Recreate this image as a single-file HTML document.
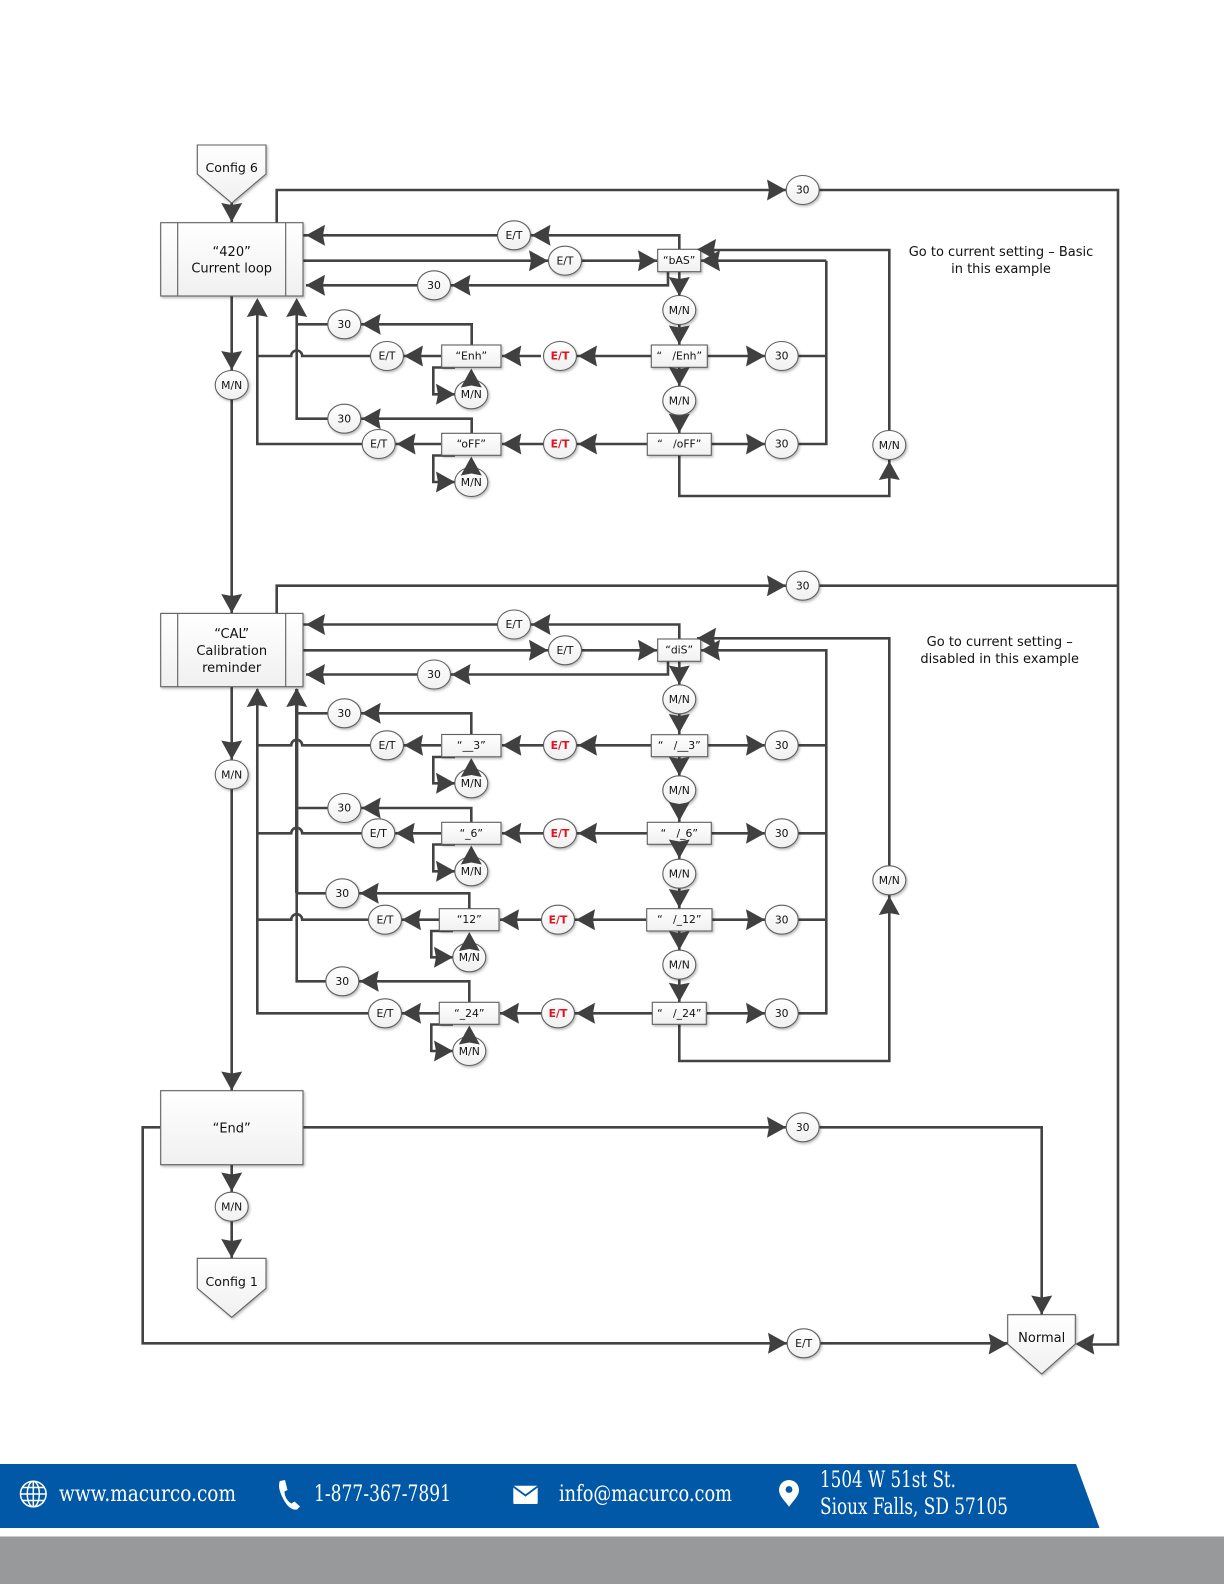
<!DOCTYPE html>
<html><head><meta charset="utf-8"><title>Config 6 flow diagram</title>
<style>html,body{margin:0;padding:0;background:#fff}svg{display:block}
text{font-family:"DejaVu Sans","Liberation Sans",sans-serif;fill:#111;text-anchor:middle;white-space:pre}
.s{font-size:10.8px}.m{font-size:13px}.c{font-size:12.6px}.r{fill:#e0131f;font-weight:bold}
.f{font-family:"DejaVu Serif","Liberation Serif",serif;font-size:22px;fill:#fff;text-anchor:start}
.sh{fill:url(#g);stroke:#5f5f5f;stroke-width:1.1;filter:url(#ds)}
</style></head><body>
<svg width="1224" height="1584" viewBox="0 0 1224 1584" xmlns="http://www.w3.org/2000/svg">
<defs>
<linearGradient id="g" x1="0" y1="0" x2="0" y2="1"><stop offset="0" stop-color="#fff"/><stop offset="1" stop-color="#f0f0f0"/></linearGradient>
<filter id="ds" x="-20%" y="-20%" width="140%" height="140%"><feDropShadow dx="1.2" dy="1.5" stdDeviation="1.4" flood-color="#000" flood-opacity=".28"/></filter>
<polygon id="ar" points="0,0 -19,-10.5 -17,0 -19,10.5" fill="#404040"/>
<polygon id="al" points="0,0 19,-10.5 17,0 19,10.5" fill="#404040"/>
<polygon id="ad" points="0,0 -10.5,-19 0,-17 10.5,-19" fill="#404040"/>
<polygon id="au" points="0,0 -10.5,19 0,17 10.5,19" fill="#404040"/>
</defs>
<rect width="1224" height="1584" fill="#fff"/>

<!-- connectors -->
<g fill="none" stroke="#434343" stroke-width="2.6">
<path d="M231.7 203V222M276.7 223V190H1118V1344.5H1080M303 235.3H679.3V250M303 260.7H657M668 271V285.3H306M679.3 271V345M679.3 367V433M651 356H560M541 356H502M707 356H826M647 444H502M711 444H826M826.3 260.7V444H798M826.3 260.7H701M679.3 455V496H889.3V250H697"/>
<path d="M231.7 296V613M257.3 300V444H441M296.7 300V418.7H471.7V433M296.7 324.3H471.7V345M441 356H302.2a5.5 5.5 0 0 0 -11 0H257.3"/>
<path d="M455 367.5H433.3V394.3H455M455 455.5H433.3V482H455"/>
<path d="M276.7 614V585.7H1118M303 624.5H679.3V639M303 650.3H657M668 661V674.5H306M679.3 661V1002M651 745.3H502M707 745.3H826M647 833.3H502M711 833.3H826M646 919.7H500M712 919.7H826M652 1013.3H500M706 1013.3H826.3V650.3H701M679.3 1024V1061H889.3V638.3H697"/>
<path d="M231.7 687V1091M257.3 689V1013.3H439M296.7 689V981.3H469.3V1002M296.7 713.3H471.3V734M296.7 808H471.3V822M296.7 893.3H469.3V909"/>
<path d="M441 745.3H302.2a5.5 5.5 0 0 0 -11 0H257.3M441 833.3H302.2a5.5 5.5 0 0 0 -11 0H257.3M439 919.7H302.2a5.5 5.5 0 0 0 -11 0H257.3"/>
<path d="M455 757H433.3V783.3H455M455 844.5H433.3V871.3H455M453 931H431.3V957.3H453M453 1024.5H431.3V1051H453"/>
<path d="M231.7 1164V1258M303 1127.3H1041.7V1315M160 1127.3H142.7V1343.3H1008"/>
<path d="M296.7 689V893" stroke-width="3.4"/>
</g>

<!-- pentagons and large boxes -->
<polygon class="sh" points="197.3,145 266,145 266,174 231.7,203 197.3,174"/>
<polygon class="sh" points="197.3,1258.3 266,1258.3 266,1288.3 231.7,1317.3 197.3,1288.3"/>
<polygon class="sh" points="1007.7,1314.7 1075.3,1314.7 1075.3,1344 1041.7,1374 1007.7,1344"/>
<rect class="sh" x="160.7" y="222.7" width="142.3" height="73.3"/>
<path d="M177.7 222.7V296M285.7 222.7V296" stroke="#5f5f5f" stroke-width="1.1"/>
<rect class="sh" x="160.7" y="613.4" width="142.3" height="73.3"/>
<path d="M177.7 613.4V686.7M285.7 613.4V686.7" stroke="#5f5f5f" stroke-width="1.1"/>
<rect class="sh" x="160.7" y="1090.7" width="142.3" height="74"/>

<!-- small boxes -->
<g class="bx">
<rect class="sh" x="657.7" y="249.3" width="43" height="22.4"/>
<rect class="sh" x="651.3" y="345" width="56" height="22.3"/>
<rect class="sh" x="647.3" y="433.3" width="64" height="22"/>
<rect class="sh" x="441.7" y="345" width="59.3" height="22.3"/>
<rect class="sh" x="441.7" y="433.3" width="59.3" height="22"/>
<rect class="sh" x="657.7" y="639" width="43" height="22.3"/>
<rect class="sh" x="651.3" y="734.7" width="56.4" height="22"/>
<rect class="sh" x="647.3" y="822.3" width="64" height="22"/>
<rect class="sh" x="646.7" y="908.7" width="65.3" height="22.3"/>
<rect class="sh" x="652.3" y="1002.3" width="54" height="22"/>
<rect class="sh" x="441.7" y="734.5" width="59.3" height="22.3"/>
<rect class="sh" x="441.7" y="822.3" width="59.3" height="22"/>
<rect class="sh" x="439.3" y="908.7" width="59.7" height="22"/>
<rect class="sh" x="439.3" y="1002.3" width="59.7" height="22"/>
</g>

<!-- circles -->
<g>
<ellipse class="sh" cx="802.7" cy="190" rx="16.5" ry="14.5"/>
<ellipse class="sh" cx="514" cy="235.3" rx="16.5" ry="14.5"/>
<ellipse class="sh" cx="565" cy="260.7" rx="16.5" ry="14.5"/>
<ellipse class="sh" cx="434" cy="285.3" rx="16.5" ry="14.5"/>
<ellipse class="sh" cx="679.3" cy="310" rx="16.5" ry="14.5"/>
<ellipse class="sh" cx="344.3" cy="324.3" rx="16.5" ry="14.5"/>
<ellipse class="sh" cx="387" cy="356" rx="16.5" ry="14.5"/>
<ellipse class="sh" cx="560" cy="356" rx="16.5" ry="14.5"/>
<ellipse class="sh" cx="781.7" cy="356" rx="16.5" ry="14.5"/>
<ellipse class="sh" cx="231.7" cy="385" rx="16.5" ry="14.5"/>
<ellipse class="sh" cx="471.3" cy="394.3" rx="16.5" ry="14.5"/>
<ellipse class="sh" cx="679.3" cy="400.7" rx="16.5" ry="14.5"/>
<ellipse class="sh" cx="344.3" cy="418.7" rx="16.5" ry="14.5"/>
<ellipse class="sh" cx="378.7" cy="444" rx="16.5" ry="14.5"/>
<ellipse class="sh" cx="560" cy="444" rx="16.5" ry="14.5"/>
<ellipse class="sh" cx="781.7" cy="444" rx="16.5" ry="14.5"/>
<ellipse class="sh" cx="889.3" cy="445" rx="16.5" ry="14.5"/>
<ellipse class="sh" cx="471.3" cy="482" rx="16.5" ry="14.5"/>
<ellipse class="sh" cx="802.7" cy="585.7" rx="16.5" ry="14.5"/>
<ellipse class="sh" cx="514" cy="624.5" rx="16.5" ry="14.5"/>
<ellipse class="sh" cx="565" cy="650.3" rx="16.5" ry="14.5"/>
<ellipse class="sh" cx="434" cy="674.5" rx="16.5" ry="14.5"/>
<ellipse class="sh" cx="679.3" cy="699.3" rx="16.5" ry="14.5"/>
<ellipse class="sh" cx="344.3" cy="713.3" rx="16.5" ry="14.5"/>
<ellipse class="sh" cx="387" cy="745.3" rx="16.5" ry="14.5"/>
<ellipse class="sh" cx="560" cy="745.3" rx="16.5" ry="14.5"/>
<ellipse class="sh" cx="781.7" cy="745.3" rx="16.5" ry="14.5"/>
<ellipse class="sh" cx="231.7" cy="774.5" rx="16.5" ry="14.5"/>
<ellipse class="sh" cx="471.3" cy="783.3" rx="16.5" ry="14.5"/>
<ellipse class="sh" cx="679.3" cy="790.3" rx="16.5" ry="14.5"/>
<ellipse class="sh" cx="344.3" cy="808" rx="16.5" ry="14.5"/>
<ellipse class="sh" cx="378.3" cy="833.3" rx="16.5" ry="14.5"/>
<ellipse class="sh" cx="560" cy="833.3" rx="16.5" ry="14.5"/>
<ellipse class="sh" cx="781.7" cy="833.3" rx="16.5" ry="14.5"/>
<ellipse class="sh" cx="471.3" cy="871.3" rx="16.5" ry="14.5"/>
<ellipse class="sh" cx="679.3" cy="873.7" rx="16.5" ry="14.5"/>
<ellipse class="sh" cx="889.3" cy="880.3" rx="16.5" ry="14.5"/>
<ellipse class="sh" cx="342.3" cy="893.3" rx="16.5" ry="14.5"/>
<ellipse class="sh" cx="385" cy="919.7" rx="16.5" ry="14.5"/>
<ellipse class="sh" cx="558" cy="919.7" rx="16.5" ry="14.5"/>
<ellipse class="sh" cx="781.7" cy="919.7" rx="16.5" ry="14.5"/>
<ellipse class="sh" cx="469.3" cy="957.3" rx="16.5" ry="14.5"/>
<ellipse class="sh" cx="679.3" cy="964.7" rx="16.5" ry="14.5"/>
<ellipse class="sh" cx="342.3" cy="981.3" rx="16.5" ry="14.5"/>
<ellipse class="sh" cx="385" cy="1013.3" rx="16.5" ry="14.5"/>
<ellipse class="sh" cx="558" cy="1013.3" rx="16.5" ry="14.5"/>
<ellipse class="sh" cx="781.7" cy="1013.3" rx="16.5" ry="14.5"/>
<ellipse class="sh" cx="469.3" cy="1051" rx="16.5" ry="14.5"/>
<ellipse class="sh" cx="802.7" cy="1127.3" rx="16.5" ry="14.5"/>
<ellipse class="sh" cx="231.7" cy="1206.7" rx="16.5" ry="14.5"/>
<ellipse class="sh" cx="803.7" cy="1343.3" rx="16.5" ry="14.5"/>
</g>

<!-- arrowheads -->
<g>
<use href="#ad" x="231.7" y="222"/><use href="#ar" x="786" y="190"/><use href="#al" x="306" y="235.3"/><use href="#al" x="531.5" y="235.3"/>
<use href="#ar" x="548" y="260.7"/><use href="#ar" x="657" y="260.7"/><use href="#al" x="451.5" y="285.3"/><use href="#al" x="306" y="285.3"/>
<use href="#ad" x="679.3" y="296"/><use href="#ad" x="679.3" y="344.5"/><use href="#ad" x="679.3" y="386"/><use href="#ad" x="679.3" y="432.7"/>
<use href="#al" x="578" y="356"/><use href="#al" x="502.3" y="356"/><use href="#ar" x="765" y="356"/><use href="#al" x="578" y="444"/><use href="#al" x="502.3" y="444"/><use href="#ar" x="765" y="444"/>
<use href="#al" x="404" y="356"/><use href="#al" x="396.5" y="444"/><use href="#al" x="701" y="260.7"/><use href="#al" x="697" y="249.5"/>
<use href="#au" x="889.3" y="461"/><use href="#ad" x="231.7" y="370"/><use href="#au" x="257.3" y="298"/><use href="#au" x="296.7" y="298"/>
<use href="#al" x="361.7" y="324.3"/><use href="#al" x="361.7" y="418.7"/><use href="#ar" x="455" y="394.3"/><use href="#au" x="471.3" y="368.5"/><use href="#ar" x="455" y="482"/><use href="#au" x="471.3" y="456.5"/>

<use href="#ad" x="231.7" y="613"/><use href="#ar" x="786" y="585.7"/><use href="#al" x="306" y="624.5"/><use href="#al" x="531.5" y="624.5"/>
<use href="#ar" x="548" y="650.3"/><use href="#ar" x="657" y="650.3"/><use href="#al" x="451.5" y="674.5"/><use href="#al" x="306" y="674.5"/>
<use href="#ad" x="679.3" y="684.5"/><use href="#ad" x="679.3" y="733"/><use href="#ad" x="679.3" y="775.7"/><use href="#ad" x="679.3" y="821"/><use href="#ad" x="679.3" y="858.5"/><use href="#ad" x="679.3" y="908"/><use href="#ad" x="679.3" y="950"/><use href="#ad" x="679.3" y="1001.7"/>
<use href="#al" x="701" y="650.3"/><use href="#al" x="697" y="638.3"/><use href="#au" x="889.3" y="896"/>
<use href="#ad" x="231.7" y="759.5"/><use href="#ad" x="231.7" y="1090.5"/><use href="#au" x="257.3" y="688"/><use href="#au" x="296.7" y="688"/>
<use href="#al" x="361.7" y="713.3"/><use href="#al" x="361.7" y="808"/><use href="#al" x="359.7" y="893.3"/><use href="#al" x="359.7" y="981.3"/>
<use href="#al" x="404" y="745.3"/><use href="#al" x="395.7" y="833.3"/><use href="#al" x="402" y="919.7"/><use href="#al" x="402" y="1013.3"/>
<use href="#al" x="502.3" y="745.3"/><use href="#al" x="502.3" y="833.3"/><use href="#al" x="500" y="919.7"/><use href="#al" x="500" y="1013.3"/>
<use href="#al" x="578" y="745.3"/><use href="#al" x="578" y="833.3"/><use href="#al" x="576" y="919.7"/><use href="#al" x="576" y="1013.3"/>
<use href="#ar" x="765" y="745.3"/><use href="#ar" x="765" y="833.3"/><use href="#ar" x="765" y="919.7"/><use href="#ar" x="765" y="1013.3"/>
<use href="#ar" x="455" y="783.3"/><use href="#au" x="471.3" y="758"/><use href="#ar" x="455" y="871.3"/><use href="#au" x="471.3" y="845.5"/>
<use href="#ar" x="453" y="957.3"/><use href="#au" x="469.3" y="932"/><use href="#ar" x="453" y="1051"/><use href="#au" x="469.3" y="1025.5"/>

<use href="#ad" x="231.7" y="1191.5"/><use href="#ad" x="231.7" y="1258"/><use href="#ar" x="786" y="1127.3"/><use href="#ad" x="1041.7" y="1314.5"/>
<use href="#ar" x="787" y="1343.3"/><use href="#ar" x="1007.7" y="1344"/><use href="#al" x="1075.3" y="1344"/>
</g>

<!-- labels -->
<g class="m">
<text class="c" x="231.7" y="172">Config 6</text>
<text class="c" x="231.7" y="1286">Config 1</text>
<text x="1041.7" y="1342">Normal</text>
<text x="231.7" y="256">“420”</text>
<text x="231.7" y="272.5">Current loop</text>
<text x="231.7" y="638">“CAL”</text>
<text x="231.7" y="655">Calibration</text>
<text x="231.7" y="672">reminder</text>
<text x="231.7" y="1132.5">“End”</text>
<text x="1001" y="256">Go to current setting – Basic</text>
<text x="1001" y="273">in this example</text>
<text x="999.7" y="646">Go to current setting –</text>
<text x="999.7" y="663">disabled in this example</text>
</g>
<g class="s">
<text x="679.2" y="264">“bAS”</text>
<text x="679.3" y="359.5">“   /Enh”</text>
<text x="679.3" y="447.5">“   /oFF”</text>
<text x="471.3" y="359.5">“Enh”</text>
<text x="471.3" y="447.5">“oFF”</text>
<text x="679.2" y="653.5">“diS”</text>
<text x="679.3" y="749">“   /__3”</text>
<text x="679.3" y="837">“   /_6”</text>
<text x="679.3" y="923">“   /_12”</text>
<text x="679.3" y="1017">“   /_24”</text>
<text x="471.3" y="749">“__3”</text>
<text x="471.3" y="837">“_6”</text>
<text x="469.3" y="923">“12”</text>
<text x="469.3" y="1017">“_24”</text>

<text x="802.7" y="193.5">30</text><text x="514" y="239">E/T</text><text x="565" y="264.5">E/T</text><text x="434" y="289">30</text>
<text x="679.3" y="314">M/N</text><text x="344.3" y="328">30</text><text x="387" y="359.5">E/T</text><text class="r" x="560" y="359.5">E/T</text>
<text x="781.7" y="359.5">30</text><text x="231.7" y="389">M/N</text><text x="471.3" y="398">M/N</text><text x="679.3" y="404.5">M/N</text>
<text x="344.3" y="422.5">30</text><text x="378.7" y="447.5">E/T</text><text class="r" x="560" y="447.5">E/T</text><text x="781.7" y="447.5">30</text>
<text x="889.3" y="449">M/N</text><text x="471.3" y="486">M/N</text>

<text x="802.7" y="589.5">30</text><text x="514" y="628">E/T</text><text x="565" y="654">E/T</text><text x="434" y="678">30</text>
<text x="679.3" y="703">M/N</text><text x="344.3" y="717">30</text><text x="387" y="749">E/T</text><text class="r" x="560" y="749">E/T</text>
<text x="781.7" y="749">30</text><text x="231.7" y="778.5">M/N</text><text x="471.3" y="787">M/N</text><text x="679.3" y="794">M/N</text>
<text x="344.3" y="811.5">30</text><text x="378.3" y="837">E/T</text><text class="r" x="560" y="837">E/T</text><text x="781.7" y="837">30</text>
<text x="471.3" y="875">M/N</text><text x="679.3" y="877.5">M/N</text><text x="889.3" y="884">M/N</text><text x="342.3" y="897">30</text>
<text x="385" y="923.5">E/T</text><text class="r" x="558" y="923.5">E/T</text><text x="781.7" y="923.5">30</text><text x="469.3" y="961">M/N</text>
<text x="679.3" y="968.5">M/N</text><text x="342.3" y="985">30</text><text x="385" y="1017">E/T</text><text class="r" x="558" y="1017">E/T</text>
<text x="781.7" y="1017">30</text><text x="469.3" y="1055">M/N</text>
<text x="802.7" y="1131">30</text><text x="231.7" y="1210.5">M/N</text><text x="803.7" y="1347">E/T</text>
</g>

<!-- footer -->
<polygon points="0,1464 1076,1464 1099.5,1528 0,1528" fill="#0058a6"/>
<rect x="0" y="1536" width="1224" height="48" fill="#98999b"/>
<rect x="0" y="1536" width="1224" height="1" fill="#c9c9ca"/>
<g fill="none" stroke="#fff" stroke-width="1.5">
<circle cx="33.3" cy="1494" r="12.8"/><ellipse cx="33.3" cy="1494" rx="6" ry="12.8"/>
<path d="M33.3 1481V1507M20.5 1494H46M22.5 1487.5H44M22.5 1500.5H44"/>
</g>
<path d="M280 1481l5-1 2.5 10-3 1.5c0 5 3 10 7 12l3-2 5.5 5-3 3c-5 1-10-3-14-11s-5-13-3-18z" fill="#fff"/>
<rect x="513.3" y="1485.7" width="24.4" height="18.3" rx="1" fill="#fff"/>
<path d="M513.3 1486.5L525.5 1495.5L537.7 1486.5" fill="none" stroke="#0058a6" stroke-width="1.8"/>
<path d="M789 1480a10 10 0 0 1 10 10c0 6-6 11-10 16.7c-4-5.7-10-10.7-10-16.7a10 10 0 0 1 10-10z" fill="#fff"/>
<circle cx="789" cy="1489.5" r="3.4" fill="#0058a6"/>
<text class="f" x="59" y="1501" textLength="177" lengthAdjust="spacingAndGlyphs">www.macurco.com</text>
<text class="f" x="314" y="1501" textLength="137" lengthAdjust="spacingAndGlyphs">1-877-367-7891</text>
<text class="f" x="559" y="1501" textLength="173" lengthAdjust="spacingAndGlyphs">info@macurco.com</text>
<text class="f" x="820" y="1487" textLength="136" lengthAdjust="spacingAndGlyphs">1504 W 51st St.</text>
<text class="f" x="820" y="1514" textLength="188" lengthAdjust="spacingAndGlyphs">Sioux Falls, SD 57105</text>
</svg>
</body></html>
